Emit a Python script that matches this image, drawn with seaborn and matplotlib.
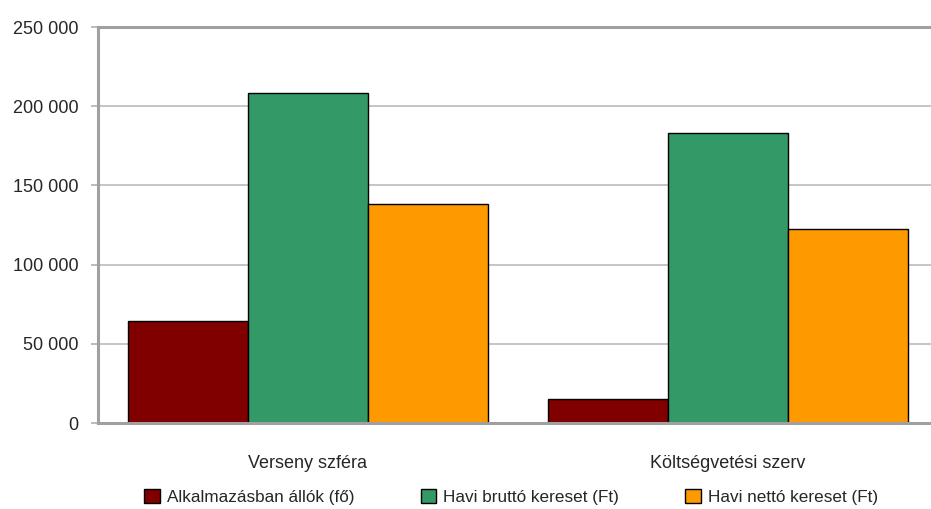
import pandas as pd
import seaborn as sns
import matplotlib.pyplot as plt
from matplotlib.ticker import FuncFormatter

# ---------------------------------------------------------
# Data
# ---------------------------------------------------------
categories = ['Verseny szféra', 'Költségvetési szerv']
series = ['Alkalmazásban állók (fő)', 'Havi bruttó kereset (Ft)', 'Havi nettó kereset (Ft)']
alkalmazottak = [64400, 15200]
brutto = [208200, 182900]
netto = [138500, 122500]
colors = ['#800000', '#339966', '#FF9900']

rows = []
for name, vals in zip(series, [alkalmazottak, brutto, netto]):
    for cat, v in zip(categories, vals):
        rows.append({'cat': cat, 'series': name, 'value': v})
df = pd.DataFrame(rows)

# ---------------------------------------------------------
# Plot
# ---------------------------------------------------------
sns.set_style('white')
plt.rcParams['font.family'] = ['Liberation Sans', 'DejaVu Sans']

fig = plt.figure(figsize=(9.31, 5.09), dpi=100)
ax = fig.add_axes([98 / 931, 86 / 509, 840 / 931, 396 / 509])

sns.barplot(data=df, x='cat', y='value', hue='series', order=categories,
            hue_order=series, palette=colors, saturation=1, width=0.857,
            edgecolor='black', linewidth=1, ax=ax)

ax.set_xlim(-0.5, 1.5)
ax.set_ylim(0, 250000)
ax.set_yticks(range(0, 250001, 50000))
ax.yaxis.set_major_formatter(FuncFormatter(lambda v, p: f'{int(v):,}'.replace(',', ' ')))
ax.set_xlabel('')
ax.set_ylabel('')

ax.set_axisbelow(True)
ax.yaxis.grid(True, color='#c0c0c0', linewidth=1.3)
ax.xaxis.grid(False)

for side in ['left', 'top', 'bottom']:
    ax.spines[side].set_visible(True)
    ax.spines[side].set_color('#a0a0a0')
    ax.spines[side].set_linewidth(2.2)
ax.spines['right'].set_visible(False)

ax.tick_params(axis='y', length=5, width=1.2, color='#b0b0b0', pad=9, labelsize=13, left=True)
ax.tick_params(axis='x', length=0, pad=23, labelsize=13)

ax.legend_.remove()
handles, labels = ax.get_legend_handles_labels()
fig.legend(handles, labels, loc='center', bbox_to_anchor=(511 / 931, 1 - 497 / 509),
           ncol=3, frameon=False, fontsize=12.3, handlelength=0.9, handleheight=0.9,
           handletextpad=0.4, columnspacing=3.9)

fig.savefig('out.png', dpi=100)
